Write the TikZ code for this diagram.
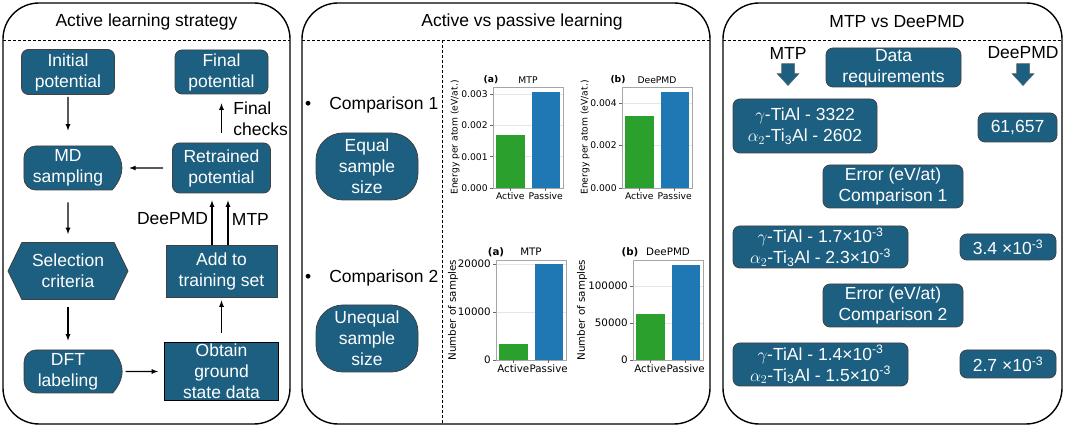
\documentclass[tikz,border=0pt]{standalone}
\usepackage{fontspec}
\setmainfont{Liberation Sans}
\newfontfamily\chartfont{DejaVu Sans}
\usetikzlibrary{positioning}
\usetikzlibrary{shapes.misc}
\usetikzlibrary{shapes.symbols}
\definecolor{boxteal}{HTML}{1D5F80}
\definecolor{barGreen}{HTML}{2CA02C}
\definecolor{barBlue}{HTML}{1F77B4}
\newcommand{\bigfont}{\fontsize{17.5}{21}\selectfont}
\newcommand{\smallchart}{\chartfont\fontsize{9.2}{11}\selectfont}
\newcommand{\largechart}{\chartfont\fontsize{10.3}{12}\selectfont}

\begin{document}
\begin{tikzpicture}[x = 1pt, y = 1pt]
  \tikzstyle{panel}=[draw = black, line width = 1.4pt, rounded corners = 36pt]
  \tikzstyle{divider}=[draw = black, line width = 0.8pt, dash pattern = on 3pt off 2pt]
  \tikzstyle{flow}=[
      rectangle, rounded corners = 7pt, fill = boxteal
    , draw = black!75, line width = 0.8pt
    , text = white, align = center, font = \bigfont, inner sep = 0pt
    ]
  \tikzstyle{flat}=[flow, sharp corners]
  \tikzstyle{pill}=[flow, rounded rectangle, rounded rectangle west arc = none, rounded corners = 12pt]
  \tikzstyle{hexa}=[flow, sharp corners, signal, signal to = west and east, signal pointer angle = 128]
  \tikzstyle{connect}=[-latex, line width = 1.2pt]
  \tikzstyle{heading}=[font = \bigfont]
  \tikzstyle{axisframe}=[draw = black!35, line width = 0.8pt]
  \tikzstyle{gridline}=[draw = black!10, line width = 0.6pt]
  \tikzstyle{tickmark}=[draw = black!60, line width = 0.6pt]

  \useasboundingbox (0,0) rectangle (1065,428);

  \draw[panel] (3,4) rectangle (290,425);
  \draw[panel] (302,4) rectangle (710,425);
  \draw[panel] (723,4) rectangle (1062,425);
  \draw[divider] (3,388) -- (290,388);
  \draw[divider] (302,388) -- (710,388);
  \draw[divider] (723,388) -- (1062,388);
  \draw[divider] (442,388) -- (442,4);

  \node[heading] (lstitle) at (146.5,406) {Active learning strategy};
  \node[heading] (avptitle) at (522,406) {Active vs passive learning};
  \node[heading] (mdtitle) at (897,406) {MTP vs DeePMD};

  % active learning loop
  \node[flow, minimum width = 93pt, minimum height = 45pt] (init) at (68,356) {Initial\\potential};
  \node[pill, minimum width = 98pt, minimum height = 44pt] (md) [below of = init, node distance = 96pt] {MD\\sampling};
  \node[hexa, minimum width = 120pt, minimum height = 57pt] (sel) [below of = md, node distance = 103pt] {Selection\\criteria};
  \node[pill, minimum width = 98pt, minimum height = 43pt] (dft) [below of = sel, node distance = 100.5pt] {DFT\\labeling};
  \node[flow, minimum width = 93pt, minimum height = 44pt] (final) [right of = init, node distance = 153.5pt] {Final\\potential};
  \node[flow, minimum width = 98pt, minimum height = 50pt] (retr) [below of = final, node distance = 96pt] {Retrained\\potential};
  \node[flat, minimum width = 111pt, minimum height = 52pt] (add) [below of = retr, node distance = 103pt] {Add to\\training set};
  \node[flat, minimum width = 114pt, minimum height = 58pt, draw = black] (obtain) [below of = add, node distance = 100.5pt] {Obtain\\ground\\state data};

  \path (init) edge [connect, shorten <= 2pt, shorten >= 15pt] (md);
  \path (md) edge [connect, shorten <= 12pt, shorten >= 8pt] (sel);
  \path (sel) edge [connect, shorten <= 7pt, shorten >= 9pt] (dft);
  \path (dft) edge [connect, shorten <= 3pt, shorten >= 6pt] (obtain);
  \path (obtain) edge [connect, shorten <= 9pt, shorten >= 3pt] (add);
  \path (retr) edge [connect, shorten <= 9pt, shorten >= 7pt] (md);
  \draw[connect, shorten >= 7pt] ([xshift = -9.5pt]add.north) -- node[heading, left] (dplbl) {DeePMD} ([xshift = -9.5pt]retr.south);
  \draw[connect, shorten >= 7pt] ([xshift = 6.5pt]add.north) -- node[heading, right] (mtplbl) {MTP} ([xshift = 6.5pt]retr.south);
  \draw[connect, shorten <= 10pt, shorten >= 9pt] (retr) -- node[heading, right, align = left, xshift = 8pt] (checks) {Final\\checks} (final);

  % active vs passive
  \node[heading, anchor = west, inner sep = 0pt] (cmp1) at (305,323) {\textbullet\hspace{18pt}Comparison 1};
  \node[heading, anchor = west, inner sep = 0pt] (cmp2) at (305,150) {\textbullet\hspace{18pt}Comparison 2};
  \node[flow, rounded corners = 27pt, minimum width = 102pt, minimum height = 67pt] (equal) at (367,261.5) {Equal\\sample\\size};
  \node[flow, rounded corners = 27pt, minimum width = 102pt, minimum height = 67pt] (unequal) [below of = equal, node distance = 172pt] {Unequal\\sample\\size};

  \begin{scope}[shift = {(493,240)}, font = \smallchart]
    \foreach \y/\t [count = \i] in {0/0.000, 31.3/0.001, 62.6/0.002, 94/0.003} {
      \draw[gridline] (0,\y) -- (70,\y);
      \draw[tickmark] (0,\y) -- (-3.5,\y) node[left, inner sep = 1.5pt] (ea\i) {\t};
    }
    \fill[barGreen] (3.2,0) rectangle (31.5,53.2);
    \fill[barBlue] (38.6,0) rectangle (66.9,95.5);
    \draw[axisframe] (0,0) rectangle (70,101);
    \foreach \x/\t [count = \i] in {17.3/Active, 52.7/Passive} {
      \draw[tickmark] (\x,0) -- (\x,-3.5) node[below, inner sep = 1pt] (eax\i) {\t};
    }
    \node[rotate = 90] (eay) at (-38,50.5) {Energy per atom (eV/at.)};
    \node (eattl) at (35,108) {MTP};
    \node[font = \smallchart\bfseries] (eatag) at (-2,108) {(a)};
  \end{scope}

  \begin{scope}[shift = {(622,240)}, font = \smallchart]
    \foreach \y/\t [count = \i] in {0/0.000, 42.5/0.002, 85/0.004} {
      \draw[gridline] (0,\y) -- (70,\y);
      \draw[tickmark] (0,\y) -- (-3.5,\y) node[left, inner sep = 1.5pt] (eb\i) {\t};
    }
    \fill[barGreen] (3.2,0) rectangle (31.5,72.3);
    \fill[barBlue] (38.6,0) rectangle (66.9,95.6);
    \draw[axisframe] (0,0) rectangle (70,101);
    \foreach \x/\t [count = \i] in {17.3/Active, 52.7/Passive} {
      \draw[tickmark] (\x,0) -- (\x,-3.5) node[below, inner sep = 1pt] (ebx\i) {\t};
    }
    \node[rotate = 90] (eby) at (-37,50.5) {Energy per atom (eV/at.)};
    \node (ebttl) at (35,108) {DeePMD};
    \node[font = \smallchart\bfseries] (ebtag) at (-4,108) {(b)};
  \end{scope}

  \begin{scope}[shift = {(496,68)}, font = \largechart]
    \foreach \y/\t [count = \i] in {0/0, 48/10000, 96/20000} {
      \draw[gridline] (0,\y) -- (70,\y);
      \draw[tickmark] (0,\y) -- (-3.5,\y) node[left, inner sep = 1.5pt] (na\i) {\t};
    }
    \fill[barGreen] (3.2,0) rectangle (31.5,15.9);
    \fill[barBlue] (38.6,0) rectangle (66.9,96);
    \draw[axisframe] (0,0) rectangle (70,100);
    \foreach \x/\t [count = \i] in {17.3/Active, 52.7/Passive} {
      \draw[tickmark] (\x,0) -- (\x,-3.5) node[below, inner sep = 1pt] (nax\i) {\t};
    }
    \node[rotate = 90] (nay) at (-43,50) {Number of samples};
    \node (nattl) at (35,108) {MTP};
    \node[font = \largechart\bfseries] (natag) at (0,108) {(a)};
  \end{scope}

  \begin{scope}[shift = {(633,68)}, font = \largechart]
    \foreach \y/\t [count = \i] in {0/0, 37/50000, 74/100000} {
      \draw[gridline] (0,\y) -- (70,\y);
      \draw[tickmark] (0,\y) -- (-3.5,\y) node[left, inner sep = 1.5pt] (nb\i) {\t};
    }
    \fill[barGreen] (3.2,0) rectangle (31.5,45.6);
    \fill[barBlue] (38.6,0) rectangle (66.9,94.7);
    \draw[axisframe] (0,0) rectangle (70,100);
    \foreach \x/\t [count = \i] in {17.3/Active, 52.7/Passive} {
      \draw[tickmark] (\x,0) -- (\x,-3.5) node[below, inner sep = 1pt] (nbx\i) {\t};
    }
    \node[rotate = 90] (nby) at (-51,50) {Number of samples};
    \node (nbttl) at (35,108) {DeePMD};
    \node[font = \largechart\bfseries] (nbtag) at (-3,108) {(b)};
  \end{scope}

  % MTP vs DeePMD
  \node[heading] (mtphead) at (788,375) {MTP};
  \node[heading] (dphead) at (1023,375) {DeePMD};
  \foreach \lbl in {mtphead, dphead} {
    \fill[boxteal, draw = black!60, line width = 0.5pt] ([shift = {(-6.5pt,-1pt)}]\lbl.south) -- ++(13,0) -- ++(0,-10) -- ++(4.5,0) -- ++(-11,-12) -- ++(-11,12) -- ++(4.5,0) -- cycle;
  }
  \node[flow, minimum width = 135pt, minimum height = 39pt] (datareq) at (893.5,360.5) {Data\\requirements};
  \node[flow, minimum width = 144pt, minimum height = 54pt] (mtpdata) at (805,302) {$\gamma$-TiAl - 3322\\$\alpha_2$-Ti\textsubscript{3}Al - 2602};
  \node[flow, minimum width = 79pt, minimum height = 29pt] (dpdata) at (1017.5,300.5) {61,657};
  \node[flow, minimum width = 140pt, minimum height = 43pt] (err1) at (893,241.5) {Error (eV/at)\\Comparison 1};
  \node[flow, minimum width = 175pt, minimum height = 42pt] (mtperr1) at (820.5,181) {$\gamma$-TiAl - 1.7×10\textsuperscript{-3}\\$\alpha_2$-Ti\textsubscript{3}Al - 2.3×10\textsuperscript{-3}};
  \node[flow, minimum width = 96pt, minimum height = 26pt] (dperr1) at (1008,181) {3.4 ×10\textsuperscript{-3}};
  \node[flow, minimum width = 140pt, minimum height = 43pt] (err2) [below of = err1, node distance = 119pt] {Error (eV/at)\\Comparison 2};
  \node[flow, minimum width = 175pt, minimum height = 43pt] (mtperr2) [below of = mtperr1, node distance = 117.5pt] {$\gamma$-TiAl - 1.4×10\textsuperscript{-3}\\$\alpha_2$-Ti\textsubscript{3}Al - 1.5×10\textsuperscript{-3}};
  \node[flow, minimum width = 96pt, minimum height = 28pt] (dperr2) [below of = dperr1, node distance = 117pt] {2.7 ×10\textsuperscript{-3}};

\end{tikzpicture}
\end{document}
